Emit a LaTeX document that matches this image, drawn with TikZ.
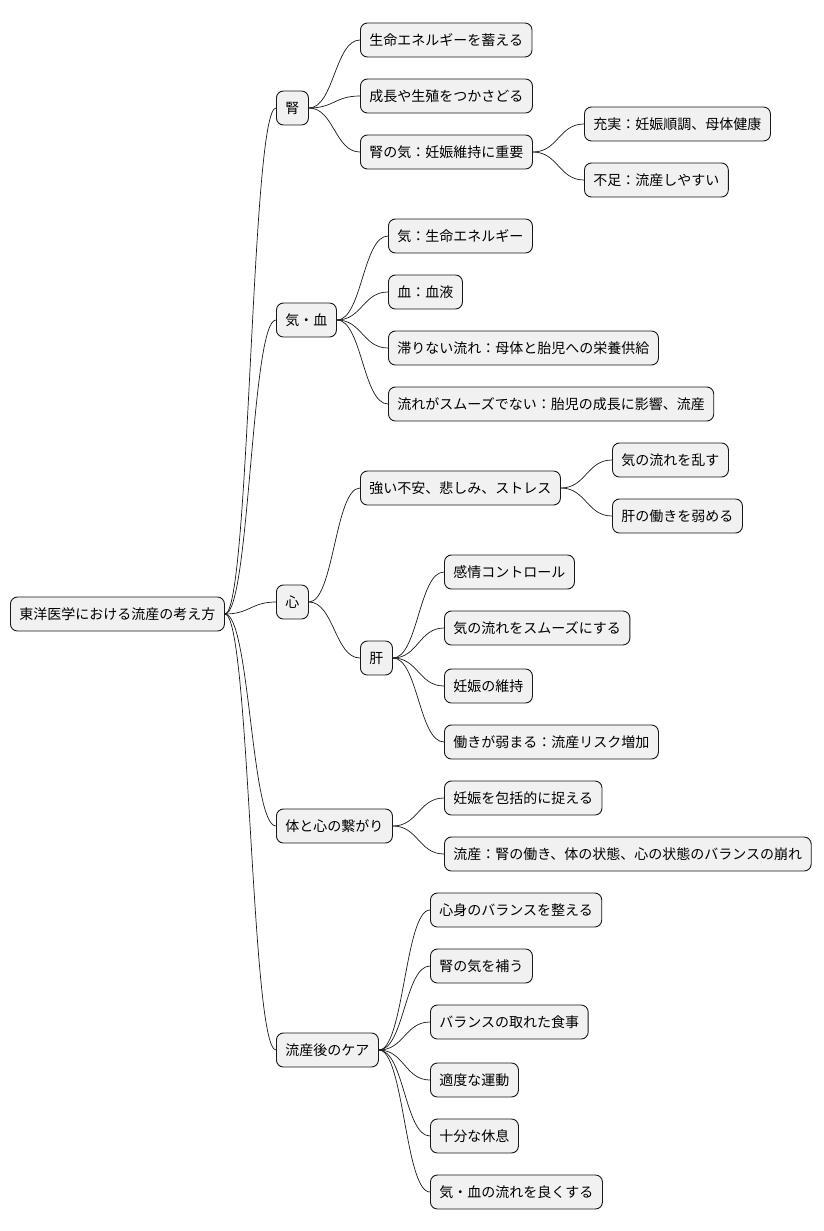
\documentclass[tikz,border=0pt]{standalone}
\usepackage{fontspec}
\newfontfamily\cjk{Noto Sans CJK JP}
\definecolor{nodefill}{HTML}{F1F1F1}
\definecolor{edge}{HTML}{181818}
\tikzset{
  mm/.style={draw=edge,fill=nodefill,rounded corners=7pt,line width=0.9pt,anchor=west,minimum height=34pt,inner xsep=9pt,font=\cjk\fontsize{14}{16}\selectfont},
  lnk/.style={draw=edge,line width=0.7pt}
}
\begin{document}
\begin{tikzpicture}[x=1pt,y=-1pt]
\useasboundingbox (0,0) rectangle (824,1231);
\node[mm] (r) at (10,614) {東洋医学における流産の考え方};
\node[mm] (a) at (276,108) {腎};
\node[mm] (a1) at (360,40) {生命エネルギーを蓄える};
\node[mm] (a2) at (360,96) {成長や生殖をつかさどる};
\node[mm] (a3) at (360,152) {腎の気：妊娠維持に重要};
\node[mm] (a31) at (584,124) {充実：妊娠順調、母体健康};
\node[mm] (a32) at (584,180) {不足：流産しやすい};
\node[mm] (b) at (276,320) {気・血};
\node[mm] (b1) at (388,236) {気：生命エネルギー};
\node[mm] (b2) at (388,292) {血：血液};
\node[mm] (b3) at (388,348) {滞りない流れ：母体と胎児への栄養供給};
\node[mm] (b4) at (388,404) {流れがスムーズでない：胎児の成長に影響、流産};
\node[mm] (c) at (276,602) {心};
\node[mm] (c1) at (360,488) {強い不安、悲しみ、ストレス};
\node[mm] (c11) at (612,460) {気の流れを乱す};
\node[mm] (c12) at (612,516) {肝の働きを弱める};
\node[mm] (c2) at (360,658) {肝};
\node[mm] (c21) at (444,572) {感情コントロール};
\node[mm] (c22) at (444,628) {気の流れをスムーズにする};
\node[mm] (c23) at (444,686) {妊娠の維持};
\node[mm] (c24) at (444,742) {働きが弱まる：流産リスク増加};
\node[mm] (d) at (276,826) {体と心の繋がり};
\node[mm] (d1) at (444,798) {妊娠を包括的に捉える};
\node[mm] (d2) at (444,854) {流産：腎の働き、体の状態、心の状態のバランスの崩れ};
\node[mm] (e) at (276,1050) {流産後のケア};
\node[mm] (e1) at (430,910) {心身のバランスを整える};
\node[mm] (e2) at (430,966) {腎の気を補う};
\node[mm] (e3) at (430,1022) {バランスの取れた食事};
\node[mm] (e4) at (430,1080) {適度な運動};
\node[mm] (e5) at (430,1136) {十分な休息};
\node[mm] (e6) at (430,1192) {気・血の流れを良くする};
\foreach \p/\c in {r/a,r/b,r/c,r/d,r/e,a/a1,a/a2,a/a3,a3/a31,a3/a32,b/b1,b/b2,b/b3,b/b4,c/c1,c/c2,c1/c11,c1/c12,c2/c21,c2/c22,c2/c23,c2/c24,d/d1,d/d2,e/e1,e/e2,e/e3,e/e4,e/e5,e/e6}
  \draw[lnk] (\p.east) .. controls ([xshift=25pt]\p.east) and ([xshift=-25pt]\c.west) .. (\c.west);
\end{tikzpicture}
\end{document}
